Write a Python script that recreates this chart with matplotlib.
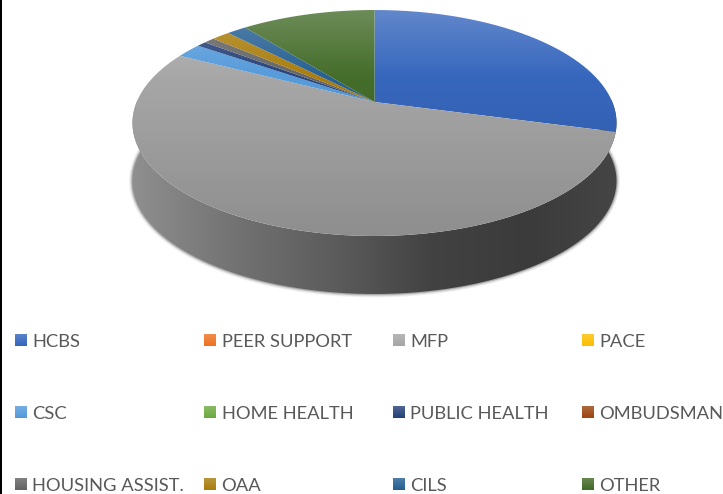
import numpy as np
from matplotlib import pyplot as plt
from matplotlib.colors import LinearSegmentedColormap, to_rgb
from matplotlib.patches import PathPatch
from matplotlib.path import Path

# share of each slice in percent
labels = ['HCBS', 'PEER SUPPORT', 'MFP', 'PACE',
          'CSC', 'HOME HEALTH', 'PUBLIC HEALTH', 'OMBUDSMAN',
          'HOUSING ASSIST.', 'OAA', 'CILS', 'OTHER']
values = [29.2, 0, 53.4, 0, 2.06, 0, 0.75, 0, 0.86, 1.44, 1.58, 10.71]
colors = ['#3364BC', '#ED7120', '#A5A5A5', '#FDBD00',
          '#5399DA', '#6CAA3F', '#243F78', '#9C440E',
          '#636363', '#A87C0A', '#235E92', '#416A26']


# tilted disc: unit circle -> pixels, with perspective
def project(x, y):
    w = 1 + 0.1858 * y
    return 374.5 + 237.8 * x / w, (102 - 90.14 * y) / w


def shade(color, amount):
    rgb = np.array(to_rgb(color))
    if amount > 0:
        return tuple(rgb + (1 - rgb) * amount)
    return tuple(rgb * (1 + amount))


def fill_gradient(ax, path, extent, stops, horizontal=False, zorder=2):
    cmap = LinearSegmentedColormap.from_list('g', stops)
    grad = np.linspace(0, 1, 256)
    grad = grad.reshape(1, -1) if horizontal else grad.reshape(-1, 1)
    im = ax.imshow(grad, extent=extent, cmap=cmap, aspect='auto', origin='upper', zorder=zorder)
    clip = PathPatch(path, transform=ax.transData, fc='none', ec='none')
    ax.add_patch(clip)
    im.set_clip_path(clip)


fig = plt.figure(figsize=(7.23, 4.94), dpi=100)
ax = fig.add_axes([0, 0, 1, 1])

# side wall, lower half of the rim pushed down
depth = 58
low = np.linspace(np.deg2rad(-190), np.deg2rad(10), 300)
lx, ly = project(np.cos(low), np.sin(low))
wall = np.vstack([np.c_[lx, ly + depth], np.c_[lx[::-1], ly[::-1]]])

# soft shadow round the wall
for lw, alpha in [(5, 0.06), (3.6, 0.08), (2.4, 0.12), (1.4, 0.2)]:
    ax.plot(lx, ly + depth, color='#202020', lw=lw, alpha=alpha, zorder=1, solid_capstyle='round')

wall_stops = [(0, '#8f8f8f'), (0.2, '#747474'), (0.45, '#585858'), (0.62, '#424242'),
              (0.82, '#3b3b3b'), (1, '#454545')]
fill_gradient(ax, Path(wall), [132, 617, 300, 100], wall_stops, horizontal=True, zorder=1.5)

# top of the pie, clockwise from 12 o'clock
edges = np.cumsum([0] + values) / sum(values) * 2 * np.pi
for k, v in enumerate(values):
    if v == 0:
        continue
    a = np.linspace(edges[k], edges[k + 1], max(int(v * 8), 8))
    px, py = project(np.sin(a), np.cos(a))
    verts = np.vstack([project(0, 0), np.c_[px, py], project(0, 0)])
    stops = [(0, shade(colors[k], 0.24)), (0.3, shade(colors[k], 0.02)), (1, shade(colors[k], -0.14))]
    fill_gradient(ax, Path(verts), [132, 617, 238, 8], stops, zorder=2)

# legend
sw_x = [15, 204, 393, 582]
row_y = [340, 412, 484]
for k, name in enumerate(labels):
    x = sw_x[k % 4]
    y = row_y[k // 4]
    box = Path([(x, y - 6), (x + 12, y - 6), (x + 12, y + 6), (x, y + 6), (x, y - 6)])
    stops = [(0, shade(colors[k], 0.2)), (1, colors[k])]
    fill_gradient(ax, box, [x, x + 12, y + 6, y - 6], stops, zorder=3)
    ax.text(x + 17.5, y + 6.5, name, family='Lato', fontsize=13.2, color='#595959',
            va='baseline', ha='left', zorder=4)

# black edge on the left of the source image
ax.plot([1, 1], [0, 494], color='black', lw=1.44, zorder=5, solid_capstyle='butt')

ax.set_xlim(0, 723)
ax.set_ylim(494, 0)
ax.axis('off')
plt.savefig('out.png', dpi=100)
